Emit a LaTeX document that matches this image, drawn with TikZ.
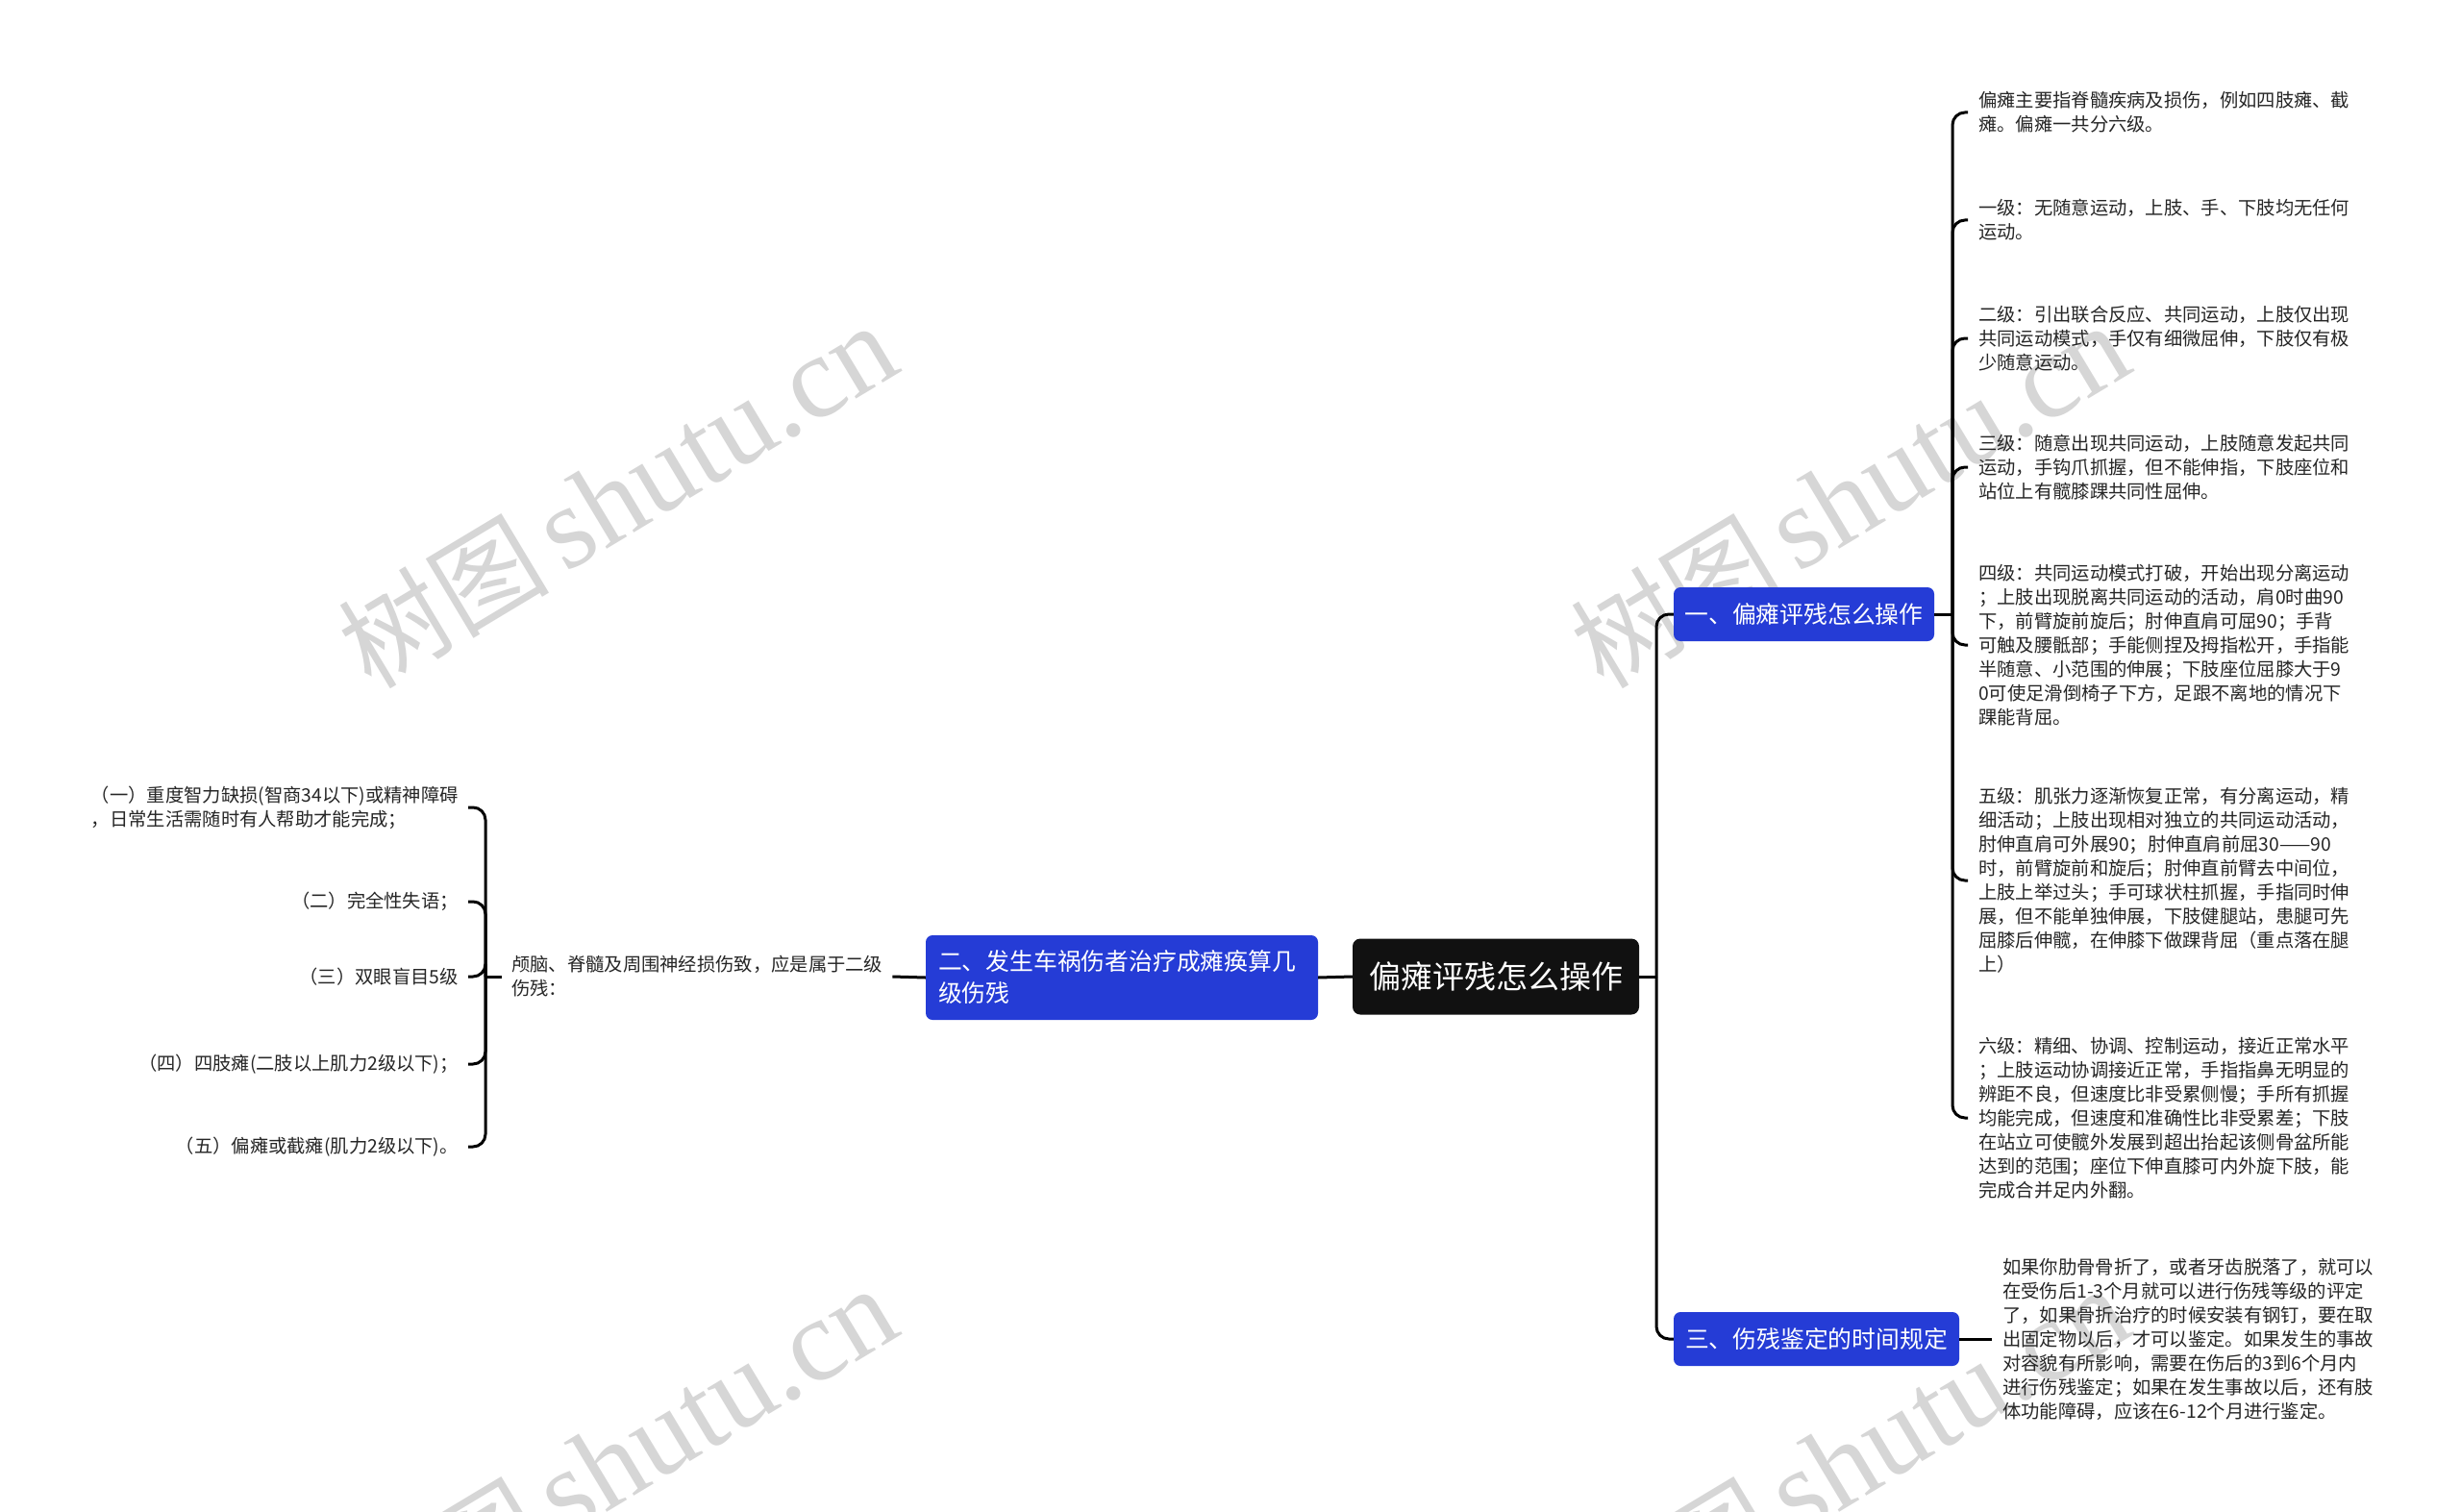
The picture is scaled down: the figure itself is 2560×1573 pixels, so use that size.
\documentclass[tikz,border=0pt]{standalone}
\usepackage{fontspec}
\setmainfont{Noto Sans CJK SC}
\newfontfamily\wmlatin{Liberation Serif}
\definecolor{brblue}{RGB}{37,60,214}
\definecolor{rootblack}{RGB}{17,17,17}
\definecolor{wmgray}{RGB}{214,214,214}
\newcommand{\wmtext}{{\fontsize{110}{110}\selectfont 树图}\hspace{16pt}{\fontsize{122}{122}\selectfont\wmlatin shutu.cn}}
\tikzset{
  rootbox/.style={fill=rootblack, rounded corners=8pt, text=white, font=\fontsize{33}{40}\selectfont, minimum width=298pt, minimum height=79pt, inner sep=0pt},
  brbox/.style={fill=brblue, rounded corners=7pt, text=white, font=\fontsize{24.8}{33}\selectfont, minimum height=56pt, inner xsep=10pt, inner ysep=0pt},
  leaf/.style={font=\fontsize{19.3}{25}\selectfont, align=left, inner xsep=11pt, inner ysep=0pt, text=black!85},
  conn/.style={draw=black, line width=3pt},
  rconn/.style={draw=black, line width=3pt, rounded corners=13pt},
  wm/.style={text=wmgray, rotate=31, inner sep=0pt}
}
\begin{document}
\begin{tikzpicture}[x=1pt, y=-1pt]
\useasboundingbox[fill=white] (0,0) rectangle (2560,1573);
% watermarks
\node[wm] (wm1) at (642,516) {\wmtext};
\node[wm] (wm2) at (1924,516) {\wmtext};
\node[wm] (wm3) at (642,1518) {\wmtext};
\node[wm] (wm4) at (1924,1518) {\wmtext};

% main nodes
\node[rootbox] (root) at (1556,1016) {偏瘫评残怎么操作};
\node[brbox, minimum width=271pt] (b1) at (1876.5,639) {一、偏瘫评残怎么操作};
\node[brbox, minimum width=297pt] (b3) at (1889.5,1393) {三、伤残鉴定的时间规定};
\node[brbox, minimum width=408pt, minimum height=88pt, text width=382pt, inner xsep=13pt, align=left] (b2) at (1167,1017) {二、发生车祸伤者治疗成瘫痪算几\\级伤残};

% right leaves of b1
\node[leaf, anchor=west] (r1) at (2047,117) {偏瘫主要指脊髓疾病及损伤，例如四肢瘫、截\\瘫。偏瘫一共分六级。};
\node[leaf, anchor=west] (r2) at (2047,229) {一级：无随意运动，上肢、手、下肢均无任何\\运动。};
\node[leaf, anchor=west] (r3) at (2047,352) {二级：引出联合反应、共同运动，上肢仅出现\\共同运动模式，手仅有细微屈伸，下肢仅有极\\少随意运动。};
\node[leaf, anchor=west] (r4) at (2047,486) {三级：随意出现共同运动，上肢随意发起共同\\运动，手钩爪抓握，但不能伸指，下肢座位和\\站位上有髋膝踝共同性屈伸。};
\node[leaf, anchor=west] (r5) at (2047,671) {四级：共同运动模式打破，开始出现分离运动\\；上肢出现脱离共同运动的活动，肩0时曲90\\下，前臂旋前旋后；肘伸直肩可屈90；手背\\可触及腰骶部；手能侧捏及拇指松开，手指能\\半随意、小范围的伸展；下肢座位屈膝大于9\\0可使足滑倒椅子下方，足跟不离地的情况下\\踝能背屈。};
\node[leaf, anchor=west] (r6) at (2047,916) {五级：肌张力逐渐恢复正常，有分离运动，精\\细活动；上肢出现相对独立的共同运动活动，\\肘伸直肩可外展90；肘伸直肩前屈30——90\\时，前臂旋前和旋后；肘伸直前臂去中间位，\\上肢上举过头；手可球状柱抓握，手指同时伸\\展，但不能单独伸展，下肢健腿站，患腿可先\\屈膝后伸髋，在伸膝下做踝背屈（重点落在腿\\上）};
\node[leaf, anchor=west] (r7) at (2047,1163) {六级：精细、协调、控制运动，接近正常水平\\；上肢运动协调接近正常，手指指鼻无明显的\\辨距不良，但速度比非受累侧慢；手所有抓握\\均能完成，但速度和准确性比非受累差；下肢\\在站立可使髋外发展到超出抬起该侧骨盆所能\\达到的范围；座位下伸直膝可内外旋下肢，能\\完成合并足内外翻。};

% leaf of b3
\node[leaf, anchor=west] (r8) at (2072,1393) {如果你肋骨骨折了，或者牙齿脱落了，就可以\\在受伤后1-3个月就可以进行伤残等级的评定\\了，如果骨折治疗的时候安装有钢钉，要在取\\出固定物以后，才可以鉴定。如果发生的事故\\对容貌有所影响，需要在伤后的3到6个月内\\进行伤残鉴定；如果在发生事故以后，还有肢\\体功能障碍，应该在6-12个月进行鉴定。};

% left side
\node[leaf, anchor=west, inner xsep=10pt] (t2) at (522,1016) {颅脑、脊髓及周围神经损伤致，应是属于二级\\伤残：};
\node[leaf, anchor=east, inner xsep=10pt] (l1) at (487,840) {（一）重度智力缺损(智商34以下)或精神障碍\\，日常生活需随时有人帮助才能完成；};
\node[leaf, anchor=east, inner xsep=10pt] (l2) at (487,938) {（二）完全性失语；};
\node[leaf, anchor=east, inner xsep=10pt] (l3) at (487,1016) {（三）双眼盲目5级};
\node[leaf, anchor=east, inner xsep=10pt] (l4) at (487,1107) {（四）四肢瘫(二肢以上肌力2级以下)；};
\node[leaf, anchor=east, inner xsep=10pt] (l5) at (487,1193) {（五）偏瘫或截瘫(肌力2级以下)。};

% junction coordinates
\coordinate (jroot) at (1723,1016);
\coordinate (jb1) at (2031,639);
\coordinate (jt2) at (505,1016);

% connectors
\draw[conn] (root.east) -- (jroot);
\draw[rconn] (jroot) |- (b1.west);
\draw[rconn] (jroot) |- (b3.west);
\draw[conn] (root.west) -- (b2.east);
\draw[conn] (b2.west) -- (t2.east);
\draw[conn] (t2.west) -- (jt2);
\foreach \n in {l1,l2,l3,l4,l5} { \draw[rconn] (jt2) |- (\n.east); }
\draw[conn] (b1.east) -- (jb1);
\foreach \n in {r1,r2,r3,r4,r5,r6,r7} { \draw[rconn] (jb1) |- (\n.west); }
\draw[conn] (b3.east) -- (r8.west);
\end{tikzpicture}
\end{document}
